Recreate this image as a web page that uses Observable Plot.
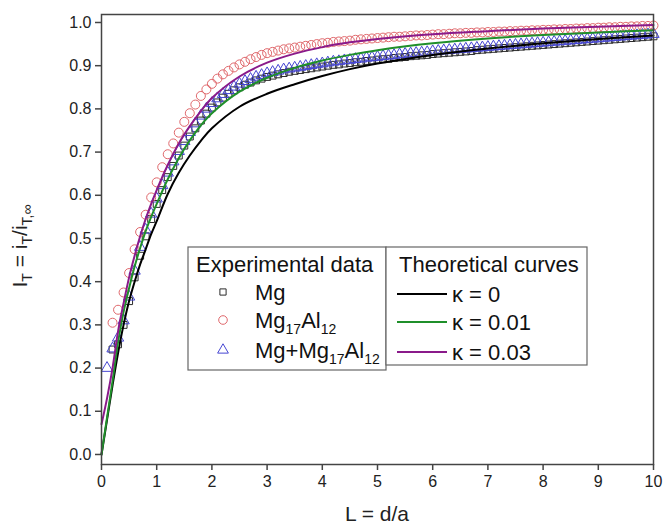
<!DOCTYPE html>
<html><head><meta charset="utf-8">
<script src="https://cdn.jsdelivr.net/npm/d3@7"></script>
<script src="https://cdn.jsdelivr.net/npm/@observablehq/plot@0.6"></script>
<style>
body{margin:0;background:#fff}
#chart{width:664px;height:529px}
</style>
</head><body><div id="chart"></div>
<script>
// ---- Data ----
const xTicks = [0,1,2,3,4,5,6,7,8,9,10];
const yTicks = [0,0.1,0.2,0.3,0.4,0.5,0.6,0.7,0.8,0.9,1.0];

// Experimental L values
const L_exp = [
 0.1,0.2,0.3,0.4,0.5,0.6,0.7,0.8,0.9,1.0,
 1.1,1.2,1.3,1.4,1.5,1.6,1.7,1.8,1.9,2.0,
 2.1,2.2,2.3,2.4,2.5,2.6,2.7,2.8,2.9,3.0,
 3.1,3.2,3.3,3.4,3.5,3.6,3.7,3.8,3.9,4.0,
 4.1,4.2,4.3,4.4,4.5,4.6,4.7,4.8,4.9,5.0,
 5.1,5.2,5.3,5.4,5.5,5.6,5.7,5.8,5.9,6.0,
 6.1,6.2,6.3,6.4,6.5,6.6,6.7,6.8,6.9,7.0,
 7.1,7.2,7.3,7.4,7.5,7.6,7.7,7.8,7.9,8.0,
 8.1,8.2,8.3,8.4,8.5,8.6,8.7,8.8,8.9,9.0,
 9.1,9.2,9.3,9.4,9.5,9.6,9.7,9.8,9.9,10.0
];
// Mg (squares)
const mgVals = [
 null,0.243,0.255,0.30,0.355,0.41,0.46,0.505,0.545,0.58,
 0.612,0.642,0.668,0.692,0.715,0.736,0.755,0.773,0.789,0.803,
 0.815,0.826,0.835,0.843,0.85,0.856,0.861,0.866,0.87,0.874,
 0.877,0.88,0.883,0.886,0.888,0.89,0.892,0.894,0.896,0.898,
 0.9,0.902,0.903,0.905,0.906,0.908,0.909,0.911,0.912,0.914,
 0.915,0.916,0.918,0.919,0.92,0.922,0.923,0.924,0.925,0.927,
 0.928,0.929,0.93,0.931,0.932,0.933,0.934,0.936,0.937,0.938,
 0.939,0.94,0.941,0.942,0.943,0.944,0.945,0.946,0.947,0.948,
 0.949,0.95,0.951,0.952,0.953,0.954,0.955,0.956,0.957,0.958,
 0.959,0.96,0.961,0.962,0.963,0.964,0.965,0.966,0.967,0.968
];
// Mg17Al12 (circles)
const alVals = [
 null,0.305,0.335,0.375,0.42,0.475,0.515,0.555,0.595,0.63,
 0.665,0.695,0.72,0.745,0.77,0.79,0.81,0.83,0.845,0.858,
 0.87,0.88,0.888,0.896,0.903,0.909,0.915,0.92,0.925,0.929,
 0.932,0.935,0.938,0.94,0.942,0.944,0.946,0.948,0.95,0.952,
 0.953,0.955,0.956,0.957,0.958,0.96,0.961,0.962,0.963,0.964,
 0.965,0.966,0.967,0.967,0.968,0.969,0.97,0.97,0.971,0.972,
 0.973,0.973,0.974,0.975,0.975,0.976,0.976,0.977,0.977,0.978,
 0.978,0.979,0.979,0.98,0.98,0.981,0.981,0.982,0.982,0.983,
 0.983,0.984,0.984,0.985,0.985,0.986,0.986,0.987,0.987,0.988,
 0.988,0.989,0.989,0.99,0.99,0.991,0.991,0.992,0.992,0.993
];
// Mg+Mg17Al12 (triangles)
const mixVals = [
 0.20,0.245,0.27,0.31,0.365,0.425,0.48,0.52,0.557,0.592,
 0.623,0.652,0.678,0.702,0.725,0.746,0.766,0.784,0.8,0.813,
 0.824,0.834,0.843,0.851,0.858,0.864,0.869,0.874,0.878,0.882,
 0.885,0.888,0.891,0.893,0.895,0.897,0.899,0.901,0.903,0.905,
 0.907,0.909,0.91,0.912,0.913,0.915,0.916,0.918,0.919,0.92,
 0.922,0.923,0.924,0.926,0.927,0.928,0.929,0.93,0.931,0.933,
 0.934,0.935,0.936,0.937,0.938,0.939,0.94,0.941,0.942,0.943,
 0.944,0.945,0.946,0.947,0.948,0.949,0.95,0.951,0.952,0.953,
 0.954,0.955,0.956,0.957,0.958,0.959,0.96,0.961,0.962,0.963,
 0.964,0.965,0.966,0.967,0.968,0.969,0.97,0.971,0.972,0.973
];

// Theoretical curves
const L_th = [0,0.1,0.2,0.3,0.4,0.5,0.6,0.7,0.8,0.9,1.0,1.2,1.4,1.6,1.8,2.0,2.5,3.0,3.5,4.0,4.5,5.0,6.0,7.0,8.0,9.0,10.0];
const k0Vals   = [0,0.08,0.16,0.235,0.30,0.355,0.40,0.44,0.475,0.51,0.54,0.603,0.652,0.692,0.726,0.755,0.805,0.835,0.857,0.876,0.892,0.905,0.925,0.94,0.952,0.962,0.97];
const k001Vals = [0,0.085,0.17,0.26,0.33,0.385,0.435,0.478,0.517,0.55,0.58,0.637,0.686,0.727,0.762,0.79,0.84,0.872,0.895,0.912,0.925,0.936,0.952,0.963,0.971,0.977,0.982];
const k003Vals = [0.07,0.13,0.2,0.285,0.35,0.41,0.46,0.505,0.545,0.58,0.612,0.67,0.72,0.76,0.795,0.825,0.875,0.907,0.928,0.943,0.954,0.962,0.973,0.98,0.986,0.99,0.994];

const curveNames = ["κ = 0", "κ = 0.01", "κ = 0.03"];

// ---- Build tables ----
function expTable(vals) {
  const out = [];
  L_exp.forEach((L, i) => { if (vals[i] != null) out.push({L, v: vals[i]}); });
  return out;
}
function thTable(vals) { return L_th.map((L, i) => ({L, v: vals[i]})); }

const C = {
  sq: "#2b2b2b", circ: "#e0686c", tri: "#4646d2",
  k0: "#000000", k001: "#1f8f2a", k003: "#8a1a8a", frame: "#444"
};
const FONT = "'Liberation Sans', Arial, sans-serif";

const plot = Plot.plot({
  width: 664, height: 529,
  marginLeft: 101, marginRight: 11, marginTop: 14, marginBottom: 65,
  style: {fontFamily: FONT, fontSize: "16px", color: "#222", background: "#fff"},
  x: {domain: [0, 10]},
  y: {domain: [-0.0232, 1.0185]},
  marks: [
    Plot.axisX({ticks: xTicks, tickSize: 6, tickPadding: 5, tickFormat: d => String(d), label: null, stroke: C.frame, strokeWidth: 1.5}),
    Plot.axisY({ticks: yTicks, tickSize: 6, tickPadding: 4, tickFormat: d3.format(".1f"), label: null, stroke: C.frame, strokeWidth: 1.5}),
    Plot.dot(expTable(mgVals), {x: "L", y: "v", symbol: "square", r: 3.9, stroke: C.sq, strokeWidth: 1, fill: "none"}),
    Plot.dot(expTable(mixVals), {x: "L", y: "v", symbol: "triangle", r: 4.2, stroke: C.tri, strokeWidth: 1, fill: "none"}),
    Plot.dot(expTable(alVals), {x: "L", y: "v", symbol: "circle", r: 4.5, stroke: C.circ, strokeWidth: 1, fill: "none"}),
    Plot.line(thTable(k0Vals), {x: "L", y: "v", stroke: C.k0, strokeWidth: 2, curve: "catmull-rom"}),
    Plot.line(thTable(k001Vals), {x: "L", y: "v", stroke: C.k001, strokeWidth: 2, curve: "catmull-rom"}),
    Plot.line(thTable(k003Vals), {x: "L", y: "v", stroke: C.k003, strokeWidth: 2, curve: "catmull-rom"}),
    Plot.frame({stroke: C.frame, strokeWidth: 1.5})
  ]
});
document.getElementById("chart").appendChild(plot);

// ---- Axis titles and legend ----
const svg = d3.select(plot);
svg.selectAll("g[aria-label='x-axis tick label'] text, g[aria-label='y-axis tick label'] text").attr("fill", "#222");

svg.append("text")
  .attr("x", 377).attr("y", 521)
  .attr("text-anchor", "middle")
  .style("font-family", FONT).style("font-size", "21px").attr("fill", "#222")
  .text("L = d/a");

const yl = svg.append("text")
  .attr("transform", "translate(27,246) rotate(-90)")
  .attr("text-anchor", "middle")
  .style("font-family", FONT).style("font-size", "21px").attr("fill", "#222");
yl.append("tspan").text("I");
yl.append("tspan").attr("dy", 5).style("font-size", "14px").text("T");
yl.append("tspan").attr("dy", -5).text(" = i");
yl.append("tspan").attr("dy", 5).style("font-size", "14px").text("T");
yl.append("tspan").attr("dy", -5).text("/i");
yl.append("tspan").attr("dy", 5).style("font-size", "14px").text("T,∞");

const LFS = "22px", SFS = "14px";
const lg = svg.append("g").style("font-family", FONT).attr("fill", "#111").attr("text-anchor", "start");
lg.append("rect").attr("x", 188).attr("y", 247).attr("width", 198).attr("height", 123)
  .attr("fill", "#fff").attr("stroke", "#666").attr("stroke-width", 1.2);
lg.append("rect").attr("x", 386).attr("y", 247).attr("width", 201).attr("height", 118)
  .attr("fill", "#fff").attr("stroke", "#666").attr("stroke-width", 1.2);
lg.append("text").attr("x", 196).attr("y", 272).attr("text-anchor", "start").style("font-size", LFS).text("Experimental data");
lg.append("text").attr("x", 399).attr("y", 272).attr("text-anchor", "start").style("font-size", LFS).text("Theoretical curves");

const symDefs = [
  {type: d3.symbolSquare, r: 3.5, color: C.sq},
  {type: d3.symbolCircle, r: 4.3, color: C.circ},
  {type: d3.symbolTriangle, r: 4.0, color: C.tri}
];
const rowsY = [300, 328, 358];
symDefs.forEach((s, i) => {
  lg.append("path")
    .attr("d", d3.symbol().type(s.type).size(Math.PI * s.r * s.r)())
    .attr("transform", `translate(223,${rowsY[i] - 8})`)
    .attr("fill", "none").attr("stroke", s.color).attr("stroke-width", 1);
});
function subLabel(y, parts) {
  const t = lg.append("text").attr("x", 255).attr("y", y).attr("text-anchor", "start").style("font-size", LFS);
  parts.forEach(p => {
    if (p.sub) t.append("tspan").attr("dy", 6).style("font-size", SFS).text(p.s);
    else t.append("tspan").attr("dy", p.after ? -6 : 0).text(p.s);
  });
}
subLabel(rowsY[0], [{s: "Mg"}]);
subLabel(rowsY[1], [{s: "Mg"}, {s: "17", sub: true}, {s: "Al", after: true}, {s: "12", sub: true}]);
subLabel(rowsY[2], [{s: "Mg+Mg"}, {s: "17", sub: true}, {s: "Al", after: true}, {s: "12", sub: true}]);

const lineColors = [C.k0, C.k001, C.k003];
const lineY = [294, 322, 352];
curveNames.forEach((n, i) => {
  lg.append("line").attr("x1", 397).attr("x2", 447).attr("y1", lineY[i]).attr("y2", lineY[i])
    .attr("stroke", lineColors[i]).attr("stroke-width", 2);
  lg.append("text").attr("x", 452).attr("y", lineY[i] + 8).attr("text-anchor", "start").style("font-size", LFS).text(n);
});
</script>
</body></html>
